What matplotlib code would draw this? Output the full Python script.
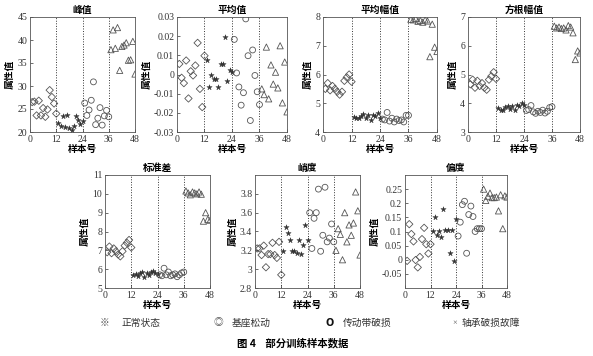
import numpy as np
import matplotlib
matplotlib.use("Agg")
import matplotlib.pyplot as plt

plt.rcParams['font.family'] = ['Liberation Serif', 'Noto Sans CJK SC', 'DejaVu Sans']
plt.rcParams['font.size'] = 7

# sample index 1..48, 12 per class
x = np.arange(1, 49)

# 峰值
peak = [26.5, 26.6, 23.6, 26.8, 23.6, 25.2, 23.3, 24.9, 29.1, 27.6, 26.2, 24.0,
        22.0, 21.3, 23.5, 21.0, 23.6, 20.8, 20.5, 21.2, 23.5, 22.5, 21.8, 22.3,
        26.3, 23.6, 24.8, 26.9, 30.9, 21.6, 23.0, 25.3, 21.5, 23.5, 24.7, 23.3,
        37.9, 42.2, 38.2, 42.7, 33.4, 38.6, 38.9, 39.4, 35.6, 35.7, 39.7, 32.6]
# 平均值
mean = [0.0055, -0.0017, -0.0045, 0.0073, -0.0125, 0.0017, -0.0005, 0.0047, 0.0165, -0.0075, -0.017, 0.0098,
        0.0078, -0.0065, -0.0005, -0.0025, -0.0022, -0.0065, 0.0057, 0.0053, 0.0195, -0.0033, 0.0022, 0.0012,
        0.0183, 0.0008, -0.0065, -0.016, -0.0095, 0.029, 0.0098, -0.024, 0.0128, -0.0005, -0.009, -0.0157,
        -0.0075, -0.0105, 0.0143, -0.0127, 0.005, -0.005, 0.0012, -0.007, 0.015, -0.0148, 0.0065, -0.0195]
# 平均幅值
mean_amp = [5.5, 5.7, 5.45, 5.6, 5.5, 5.4, 5.3, 5.4, 5.78, 5.9, 6.0, 5.75,
            4.52, 4.5, 4.48, 4.55, 4.62, 4.5, 4.58, 4.42, 4.6, 4.55, 4.65, 4.5,
            4.45, 4.42, 4.68, 4.38, 4.48, 4.35, 4.45, 4.4, 4.42, 4.35, 4.58, 4.58,
            7.92, 7.9, 7.95, 7.85, 7.88, 7.82, 7.9, 7.86, 6.62, 7.75, 6.95, 6.8]
# 方根幅值
rms_amp = [4.66, 4.82, 4.54, 4.78, 4.6, 4.7, 4.54, 4.47, 4.82, 4.94, 5.08, 4.85,
           3.82, 3.78, 3.75, 3.88, 3.92, 3.8, 3.9, 3.75, 3.95, 3.9, 4.0, 3.95,
           3.75, 3.78, 3.92, 3.7, 3.65, 3.72, 3.68, 3.76, 3.66, 3.72, 3.85, 3.88,
           6.68, 6.62, 6.65, 6.6, 6.62, 6.55, 6.7, 6.65, 6.45, 5.52, 5.82, 5.75]
# 标准差
std = [6.9, 7.2, 6.85, 7.1, 6.95, 6.78, 6.68, 6.95, 7.25, 7.4, 7.55, 7.15,
       5.7, 5.75, 5.65, 5.8, 5.85, 5.6, 5.78, 5.7, 5.85, 5.9, 5.82, 5.75,
       5.7, 5.65, 6.05, 5.7, 5.85, 5.65, 5.7, 5.75, 5.6, 5.7, 5.8, 5.85,
       10.15, 10.05, 9.95, 10.1, 10.05, 10.0, 10.1, 9.98, 8.55, 9.0, 8.65, 8.6]
# 峭度
kurt = [3.22, 3.22, 3.15, 3.25, 3.02, 3.16, 3.16, 3.28, 3.15, 3.12, 3.29, 2.94,
        3.19, 3.45, 3.38, 3.31, 3.19, 3.19, 3.17, 3.31, 3.16, 3.26, 3.47, 3.31,
        3.6, 3.22, 3.54, 3.6, 3.85, 3.19, 3.36, 3.87, 3.29, 3.33, 3.48, 3.29,
        3.2, 3.43, 3.37, 3.1, 3.6, 3.29, 3.47, 3.36, 3.49, 3.82, 3.62, 3.15]
# 偏度
skew = [-0.004, 0.126, 0.091, 0.065, -0.001, -0.027, 0.01, 0.073, 0.113, 0.055, 0.022, 0.055,
        0.103, 0.152, 0.087, 0.102, 0.082, 0.18, 0.105, 0.105, 0.024, 0.105, -0.004, 0.145,
        0.084, 0.133, 0.195, 0.207, 0.023, 0.16, 0.19, 0.153, 0.1, 0.11, 0.11, 0.11,
        0.25, 0.21, 0.225, 0.236, 0.22, 0.22, 0.222, 0.173, 0.23, 0.11, 0.226, 0.222]

titles = ['峰值', '平均值', '平均幅值', '方根幅值', '标准差', '峭度', '偏度']
series = [peak, mean, mean_amp, rms_amp, std, kurt, skew]
ylims = [(20, 45), (-0.03, 0.03), (4, 8), (3, 7), (5, 11), (2.8, 4.0), (-0.1, 0.3)]
yticks = [[20, 25, 30, 35, 40, 45],
          [-0.03, -0.02, -0.01, 0, 0.01, 0.02, 0.03],
          [4, 5, 6, 7, 8],
          [3, 4, 5, 6, 7],
          [5, 6, 7, 8, 9, 10, 11],
          [2.8, 3, 3.2, 3.4, 3.6, 3.8],
          [-0.05, 0, 0.05, 0.1, 0.15, 0.2, 0.25]]
ytick_labels = [None, ['-0.03', '-0.02', '-0.01', '0', '0.01', '0.02', '0.03'],
                None, None, None, ['2.8', '3', '3.2', '3.4', '3.6', '3.8'],
                ['-0.05', '0', '0.05', '0.1', '0.15', '0.2', '0.25']]

W, H = 593, 356
# axes boxes in pixels: left, right, top, bottom
boxes = [(30, 135, 17, 132), (177, 287, 17, 132), (323, 437, 17, 132), (468, 580, 17, 132),
         (105, 210, 175, 288), (255, 360, 175, 288), (405, 507, 175, 288)]

fig = plt.figure(figsize=(W / 100, H / 100), dpi=100)

for i in range(7):
    l, r, t, b = boxes[i]
    ax = fig.add_axes([l / W, 1 - b / H, (r - l) / W, (b - t) / H])
    y = np.array(series[i])
    ax.scatter(x[:12], y[:12], marker='D', s=14, facecolors='none', edgecolors='#555555', linewidths=0.6)
    ax.scatter(x[12:24], y[12:24], marker='*', s=16, color='#333333', linewidths=0.3)
    ax.scatter(x[24:36], y[24:36], marker='o', s=18, facecolors='none', edgecolors='#555555', linewidths=0.6)
    ax.scatter(x[36:], y[36:], marker='^', s=20, facecolors='none', edgecolors='#555555', linewidths=0.6)
    for v in [12, 24, 36]:
        ax.axvline(v, color='#333333', linestyle=':', linewidth=0.7)
    ax.set_xlim(0, 48)
    ax.set_xticks([0, 12, 24, 36, 48])
    ax.set_ylim(*ylims[i])
    ax.set_yticks(yticks[i])
    if ytick_labels[i] is not None:
        ax.set_yticklabels(ytick_labels[i])
    ax.tick_params(direction='in', length=2, width=0.5, labelsize=7, pad=2, colors='#333333')
    for s in ax.spines.values():
        s.set_linewidth(0.6)
        s.set_color('#555555')
    ax.set_title(titles[i], fontsize=7, pad=3, fontweight='bold')
    ax.set_xlabel('样本号', fontsize=7, labelpad=1, fontweight='bold')
    ax.set_ylabel('属性值', fontsize=7, labelpad=2, fontweight='bold')

# legend row
ly = 1 - 323 / H
fig.text(100 / W, ly, '※', fontsize=7, color='#555555', va='center')
fig.text(122 / W, ly, '正常状态', fontsize=7, color='#333333', va='center')
fig.text(214 / W, ly, '◎', fontsize=7, color='#555555', va='center')
fig.text(232 / W, ly, '基座松动', fontsize=7, color='#333333', va='center')
fig.text(325 / W, ly, 'O', fontsize=7, color='#111111', va='center', fontweight='bold',
         family=['DejaVu Sans'])
fig.text(343 / W, ly, '传动带破损', fontsize=7, color='#333333', va='center')
fig.text(452 / W, ly, '×', fontsize=6, color='#555555', va='center')
fig.text(462 / W, ly, '轴承破损故障', fontsize=7, color='#333333', va='center')

fig.text(293 / W, 1 - 343 / H, '图 4    部分训练样本数据', fontsize=7.5, ha='center', va='center',
         fontweight='bold', family=['Noto Sans CJK SC', 'DejaVu Sans'])

fig.savefig('out.png', dpi=100)
